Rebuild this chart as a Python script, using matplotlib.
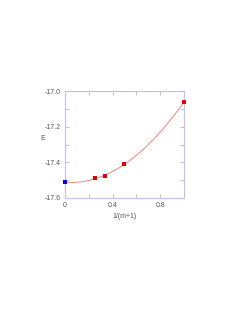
import numpy as np
import matplotlib
matplotlib.use("Agg")
import matplotlib.pyplot as plt
from matplotlib.ticker import MultipleLocator

# data
m = np.array([0, 1, 2, 3])
energy = np.array([-17.062, -17.41, -17.476, -17.49])
x_extrap = [0.0]
e_extrap = [-17.511]

x = 1.0 / (m + 1)

plt.rcParams['font.family'] = ['Liberation Sans', 'DejaVu Sans']

fig = plt.figure(figsize=(2.53, 3.27), dpi=100)
ax = fig.add_axes([0.257, 0.3945, 0.47, 0.327])

# fit curve through points incl. extrapolated value
xa = np.concatenate([x, x_extrap])
ea = np.concatenate([energy, e_extrap])
coef = np.polyfit(xa, ea, 3)
xs = np.linspace(0, 1, 200)
ax.plot(xs, np.polyval(coef, xs), color="#f07070", lw=0.6)

ax.plot(x, energy, "s", color="#e00000", ms=2.2, mew=0, clip_on=False, zorder=5)
ax.plot(x_extrap, e_extrap, "s", color="#0000e0", ms=2.4, mew=0, clip_on=False, zorder=5)

ax.set_xlim(0, 1)
ax.set_ylim(-17.6, -17.0)
ax.xaxis.set_major_locator(MultipleLocator(0.4))
ax.xaxis.set_minor_locator(MultipleLocator(0.2))
ax.yaxis.set_major_locator(MultipleLocator(0.2))
ax.yaxis.set_minor_locator(MultipleLocator(0.1))
ax.xaxis.set_major_formatter(plt.FuncFormatter(lambda v, p: "0" if v == 0 else f"{v:.1f}"))
ax.yaxis.set_major_formatter(plt.FuncFormatter(lambda v, p: f"{v:.1f}"))

spc = "#c0c0ee"
tc = "#555555"
for s in ax.spines.values():
    s.set_color(spc)
    s.set_linewidth(0.8)
ax.tick_params(which="both", direction="in", top=True, right=True, color=spc,
               labelsize=5, labelcolor=tc, width=0.8, pad=3)
ax.tick_params(which="major", length=3)
ax.tick_params(which="minor", length=3)

ax.set_xlabel("1/(m+1)", fontsize=5, color=tc, labelpad=3)
ax.set_ylabel("E", fontsize=5, color=tc, rotation=0, labelpad=0)
ax.yaxis.set_label_coords(-0.19, 0.52)

fig.savefig("out.png", dpi=100)
